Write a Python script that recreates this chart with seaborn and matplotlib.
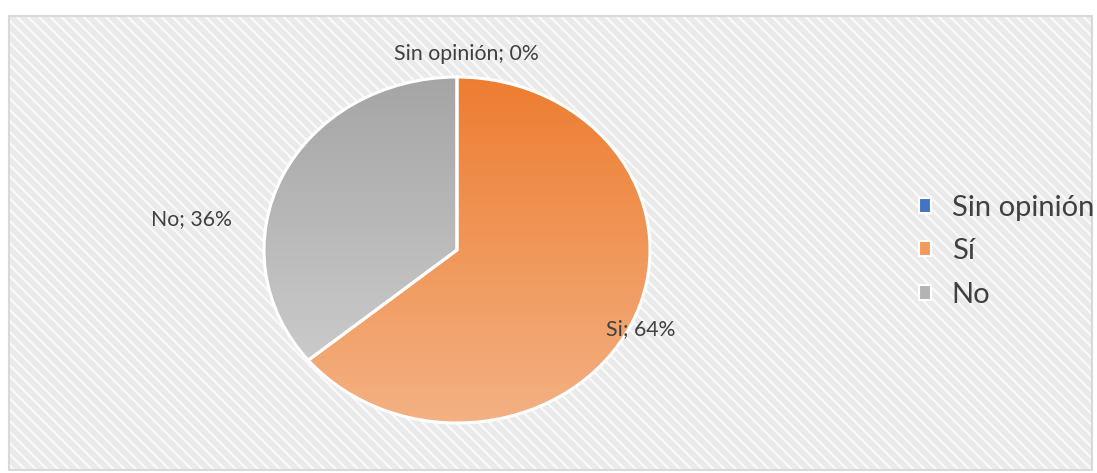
import numpy as np
import matplotlib
matplotlib.use("Agg")
import matplotlib.pyplot as plt
import seaborn as sns
from matplotlib.patches import Rectangle, Patch
from matplotlib.colors import LinearSegmentedColormap

sns.set_theme(style="white")
plt.rcParams['font.family'] = ['Lato', 'DejaVu Sans']

# data
categories = ["Sin opinión", "Sí", "No"]
values = [0, 64, 36]
label_names = ["Sin opinión", "Si", "No"]

# styling
top_colors = ["#4472C4", "#ED7D31", "#A5A5A5"]
bottom_colors = ["#6F93D4", "#F4B183", "#CACACA"]
legend_colors = ["#4472C4", "#F09A5E", "#B4B4B4"]

W, H = 1097, 473
fig = plt.figure(figsize=(W / 100, H / 100), dpi=100)
fig.patch.set_facecolor("white")

# background chart area
bg = fig.add_axes([0, 0, 1, 1])
bg.set_xlim(0, W)
bg.set_ylim(H, 0)
bg.axis("off")
plt.rcParams['hatch.linewidth'] = 1.6
bg.add_patch(Rectangle((9, 16), 1083, 454, facecolor="#EAEAEA", edgecolor="#FAFAFA", lw=0,
                       hatch="\\\\\\"))
bg.add_patch(Rectangle((9, 16), 1083, 454, facecolor="none", edgecolor="#D9D9D9", lw=1.5))

# pie axes (elliptical)
cx, cy, rx, ry = 457, 250, 193, 173
ax = fig.add_axes([(cx - rx) / W, 1 - (cy + ry) / H, 2 * rx / W, 2 * ry / H])

wedges, _ = ax.pie(values, startangle=90, counterclock=False, radius=1,
                   colors=top_colors, wedgeprops=dict(edgecolor="white", linewidth=2.2))
ax.set_xlim(-1, 1)
ax.set_ylim(-1, 1)
ax.set_aspect("auto")
ax.axis("off")

grad = np.linspace(0, 1, 256).reshape(-1, 1)
for w, v, c0, c1 in zip(wedges, values, top_colors, bottom_colors):
    if v <= 0:
        continue
    bb = w.get_path().get_extents(w.get_patch_transform())
    cmap = LinearSegmentedColormap.from_list("g", [c1, c0])
    im = ax.imshow(grad, cmap=cmap, extent=[-1, 1, bb.y0, bb.y1], origin="lower",
                   aspect="auto", zorder=w.get_zorder() + 0.1)
    im.set_clip_path(w)
    w.set_facecolor("none")
    w.set_zorder(w.get_zorder() + 0.2)
ax.set_xlim(-1, 1)
ax.set_ylim(-1, 1)
ax.set_aspect("auto")

# data labels (layout positions in axes data coords)
label_pos = {"Sin opinión": (0.05, 1.135, "center"), "Si": (0.95, -0.46, "center"), "No": (-1.165, 0.18, "right")}
for name, v in zip(label_names, values):
    x, y, ha = label_pos[name]
    ax.text(x, y, f"{name}; {v}%", ha=ha, va="center", fontsize=15.3, color="#404040", clip_on=False)

# legend
handles = [Patch(facecolor=c, edgecolor="white", lw=1.5) for c in legend_colors]
leg = fig.legend(handles, categories, loc="center left", bbox_to_anchor=(919 / W, 1 - 251 / H),
                 frameon=False, fontsize=21, handlelength=0.42, handleheight=0.42,
                 handletextpad=0.7, labelspacing=0.6, labelcolor="#404040",
                 borderaxespad=0, borderpad=0)

fig.savefig("out.png", dpi=100)
